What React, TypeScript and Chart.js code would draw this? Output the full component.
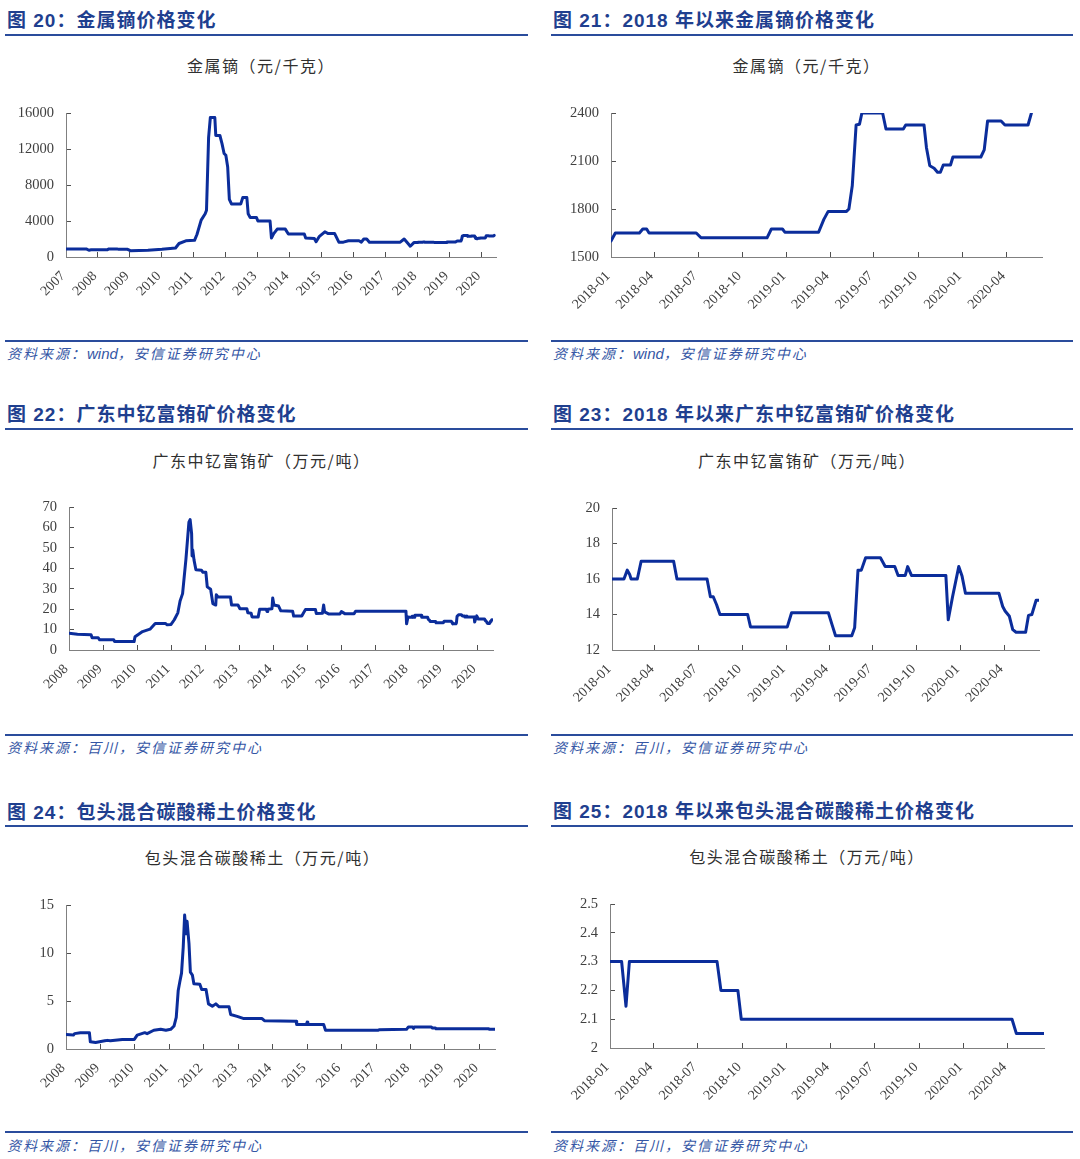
import React, { useEffect, useRef } from 'react';
import { Chart, registerables } from 'chart.js';

Chart.register(...registerables);

// ---------------- data ----------------
// 图21 / 图20 (2018 onward): 金属镝 元/千克
const dyRecentDates = [
  '2018-01-01', '2018-01-10', '2018-03-01', '2018-03-08', '2018-03-16', '2018-03-21',
  '2018-06-27', '2018-07-07', '2018-11-21', '2018-11-30', '2018-12-23', '2018-12-28',
  '2019-03-08', '2019-03-19', '2019-03-28', '2019-05-05', '2019-05-10', '2019-05-17',
  '2019-05-25', '2019-06-01', '2019-06-06', '2019-07-19', '2019-07-26', '2019-08-31',
  '2019-09-05', '2019-10-13', '2019-10-18', '2019-10-25', '2019-11-03', '2019-11-10',
  '2019-11-16', '2019-11-22', '2019-12-07', '2019-12-12', '2020-02-08', '2020-02-15',
  '2020-02-22', '2020-03-21', '2020-03-29', '2020-05-16', '2020-05-23',
];
const dyRecentValues = [
  1600, 1650, 1650, 1675, 1675, 1650,
  1650, 1620, 1620, 1675, 1675, 1655,
  1655, 1735, 1785, 1785, 1800, 1945,
  2325, 2330, 2400, 2400, 2300, 2300,
  2325, 2325, 2185, 2070, 2055, 2030,
  2030, 2075, 2075, 2125, 2125, 2170,
  2350, 2350, 2325, 2325, 2400,
];
// 图20 (2007-2017)
const dyEarlyDates = [
  '2007-01-01', '2007-08-20', '2007-09-20', '2007-10-15', '2008-04-15', '2008-05-05',
  '2008-08-05', '2008-08-25', '2008-12-05', '2009-01-05', '2009-07-25', '2010-01-01',
  '2010-04-05', '2010-06-05', '2010-07-15', '2010-10-01', '2011-01-08', '2011-02-05',
  '2011-03-25', '2011-05-10', '2011-05-25', '2011-06-18', '2011-07-08', '2011-08-28',
  '2011-09-08', '2011-10-25', '2011-11-18', '2011-12-12', '2012-01-01', '2012-01-22',
  '2012-02-10', '2012-03-05', '2012-06-20', '2012-07-12', '2012-08-28', '2012-09-12',
  '2012-10-05', '2012-12-15', '2013-01-01', '2013-05-20', '2013-06-05', '2013-07-01',
  '2013-08-10', '2013-11-10', '2013-12-15', '2014-06-15', '2014-07-01', '2014-10-08',
  '2014-10-28', '2014-12-05', '2015-02-05', '2015-03-15', '2015-05-28', '2015-07-15',
  '2015-09-05', '2015-11-01', '2016-03-01', '2016-03-28', '2016-04-25', '2016-05-28',
  '2016-06-28', '2017-06-15', '2017-07-30', '2017-09-12', '2017-10-08', '2017-11-18',
  '2017-12-31',
];
const dyEarlyValues = [
  900, 900, 750, 800, 800, 900,
  900, 850, 850, 700, 750, 850,
  950, 1000, 1500, 1800, 1850, 2500,
  4100, 4800, 5200, 13300, 15500, 15500,
  13500, 13500, 12600, 11500, 11300, 10000,
  6400, 5900, 5900, 6600, 6600, 4800,
  4400, 4400, 4000, 4000, 2100, 2600,
  3100, 3100, 2550, 2550, 2100, 2050,
  1700, 2300, 2800, 2600, 2600, 1650,
  1650, 1800, 1800, 1650, 2000, 2000,
  1650, 1650, 2000, 1500, 1200, 1600,
  1600,
];

// 图23 / 图22 (2018 onward): 广东中钇富铕矿 万元/吨
const euRecentDates = [
  '2018-01-01', '2018-01-26', '2018-02-02', '2018-02-07', '2018-02-10', '2018-02-23',
  '2018-03-03', '2018-05-10', '2018-05-17', '2018-07-19', '2018-07-26', '2018-08-01',
  '2018-08-08', '2018-08-15', '2018-10-12', '2018-10-18', '2019-01-03', '2019-01-12',
  '2019-03-30', '2019-04-07', '2019-04-14', '2019-05-18', '2019-05-24', '2019-05-31',
  '2019-06-07', '2019-06-16', '2019-07-17', '2019-07-27', '2019-08-16', '2019-08-23',
  '2019-09-07', '2019-09-12', '2019-09-20', '2019-12-01', '2019-12-06', '2019-12-15',
  '2019-12-28', '2020-01-04', '2020-01-11', '2020-03-21', '2020-03-29', '2020-04-03',
  '2020-04-12', '2020-04-19', '2020-04-26', '2020-05-16', '2020-05-22', '2020-05-29',
  '2020-06-07', '2020-06-12',
];
const euRecentValues = [
  16.0, 16.0, 16.5, 16.25, 16.0, 16.0,
  17.0, 17.0, 16.0, 16.0, 15.0, 15.0,
  14.55, 14.0, 14.0, 13.3, 13.3, 14.1,
  14.1, 13.4, 12.8, 12.8, 13.25, 16.5,
  16.5, 17.2, 17.2, 16.7, 16.7, 16.2,
  16.2, 16.7, 16.2, 16.2, 13.7, 15.0,
  16.7, 16.15, 15.2, 15.2, 14.45, 14.2,
  13.9, 13.15, 13.0, 13.0, 13.95, 14.0,
  14.8, 14.8,
];
// 图22 (2008-2017)
const euEarlyDates = [
  '2008-01-01', '2008-04-01', '2008-08-25', '2008-09-05', '2008-11-10', '2008-11-25',
  '2009-04-25', '2009-05-05', '2009-11-30', '2009-12-10', '2010-01-10', '2010-03-01',
  '2010-05-20', '2010-07-15', '2010-11-01', '2010-11-20', '2011-01-01', '2011-02-05',
  '2011-03-15', '2011-04-08', '2011-05-05', '2011-06-10', '2011-07-12', '2011-07-25',
  '2011-08-10', '2011-08-15', '2011-08-22', '2011-09-05', '2011-09-25', '2011-11-25',
  '2011-12-10', '2012-01-10', '2012-01-25', '2012-03-01', '2012-03-25', '2012-04-25',
  '2012-05-01', '2012-05-20', '2012-09-30', '2012-10-12', '2012-12-20', '2013-01-10',
  '2013-03-25', '2013-04-05', '2013-05-10', '2013-05-20', '2013-07-25', '2013-08-10',
  '2013-10-20', '2013-10-28', '2013-11-05', '2013-12-20', '2013-12-28', '2014-01-10',
  '2014-03-01', '2014-03-25', '2014-07-30', '2014-08-10', '2014-11-05', '2014-11-20',
  '2014-12-15', '2015-04-01', '2015-04-10', '2015-06-15', '2015-06-28', '2015-07-08',
  '2015-08-25', '2015-12-20', '2016-01-05', '2016-02-10', '2016-05-20', '2016-06-05',
  '2017-11-28', '2017-12-05', '2017-12-20',
];
const euEarlyValues = [
  8.2, 7.7, 7.5, 6.0, 6.0, 5.0,
  5.0, 4.1, 4.1, 6.5, 7.5, 9.0,
  10.2, 13.0, 13.0, 12.3, 12.5, 14.8,
  18.2, 24.0, 27.6, 44.5, 62.6, 63.8,
  56.9, 46.0, 49.0, 44.0, 39.3, 39.0,
  38.0, 38.0, 30.9, 29.7, 22.7, 22.0,
  27.0, 26.0, 26.0, 22.0, 22.0, 20.2,
  20.2, 18.2, 18.0, 16.2, 16.2, 20.0,
  19.9, 18.8, 19.9, 20.2, 25.5, 22.0,
  21.5, 19.2, 19.0, 16.6, 16.6, 17.9,
  19.8, 19.8, 17.9, 18.0, 22.0, 18.7,
  17.6, 17.6, 18.8, 17.8, 17.8, 19.0,
  19.0, 12.8, 16.2,
];

// 图25 / 图24 (2018 onward): 包头混合碳酸稀土 万元/吨
const btRecentDates = [
  '2018-01-01', '2018-01-25', '2018-02-03', '2018-02-10', '2018-08-10', '2018-08-18',
  '2018-09-22', '2018-09-29', '2020-04-10', '2020-04-19', '2020-06-15',
];
const btRecentValues = [2.3, 2.3, 2.145, 2.3, 2.3, 2.2, 2.2, 2.1, 2.1, 2.05, 2.05];
// 图24 (2008-2017)
const btEarlyDates = [
  '2008-01-01', '2008-03-20', '2008-04-01', '2008-06-01', '2008-09-05', '2008-09-15',
  '2008-11-10', '2009-02-15', '2009-03-15', '2009-04-15', '2009-08-20', '2009-12-25',
  '2010-01-25', '2010-02-10', '2010-04-15', '2010-05-10', '2010-07-20', '2010-10-01',
  '2010-11-25', '2011-01-15', '2011-02-20', '2011-03-15', '2011-04-05', '2011-04-22',
  '2011-05-10', '2011-05-28', '2011-06-12', '2011-06-28', '2011-07-08', '2011-07-28',
  '2011-08-12', '2011-09-02', '2011-09-18', '2011-11-20', '2011-12-10', '2012-01-25',
  '2012-02-20', '2012-04-01', '2012-05-08', '2012-06-12', '2012-09-25', '2012-10-12',
  '2012-12-20', '2013-03-01', '2013-09-10', '2013-10-05', '2014-09-05', '2014-09-12',
  '2014-12-25', '2015-01-01', '2015-01-08', '2015-06-25', '2015-07-15', '2017-01-20',
  '2017-02-01', '2017-11-20', '2017-12-10',
];
const btEarlyValues = [
  1.5, 1.45, 1.6, 1.7, 1.7, 0.75,
  0.68, 0.85, 0.9, 0.85, 1.0, 1.0,
  1.45, 1.5, 1.7, 1.6, 1.95, 2.05,
  1.95, 2.05, 2.4, 3.3, 6.1, 7.0,
  7.9, 10.6, 13.95, 12.0, 13.3, 11.0,
  8.0, 7.7, 6.8, 6.75, 6.2, 6.2,
  4.7, 4.45, 4.7, 4.4, 4.4, 3.6,
  3.4, 3.17, 3.17, 2.95, 2.9, 2.55,
  2.55, 2.8, 2.55, 2.55, 1.95, 1.95,
  2.0, 2.05, 2.3,
];

// tick labels
const yearLabels2007 = ['2007', '2008', '2009', '2010', '2011', '2012', '2013', '2014', '2015', '2016', '2017', '2018', '2019', '2020'];
const yearLabels2008 = ['2008', '2009', '2010', '2011', '2012', '2013', '2014', '2015', '2016', '2017', '2018', '2019', '2020'];
const quarterLabels = ['2018-01', '2018-04', '2018-07', '2018-10', '2019-01', '2019-04', '2019-07', '2019-10', '2020-01', '2020-04'];

// ---------------- style ----------------
const LINE_COLOR = '#0b2d9b';
const HEADER_COLOR = '#1f3f8f';
const RULE_COLOR = '#2a4c9c';
const SOURCE_COLOR = '#3456a5';
const AXIS_COLOR = '#808080';
const TICK_COLOR = '#505050';
const LABEL_COLOR = '#404040';
const SERIF = '"Liberation Serif", "Times New Roman", serif';
const CJK = '"Noto Sans CJK SC", "Noto Sans", sans-serif';
const HEADER_FONT = '"Liberation Sans", Arial, "Noto Sans CJK SC", sans-serif';

const YW = 62;
const PT = 12;
const PR = 14;
const XH = 70;

const toDay = (s: string) => {
  const p = s.split('-').map(Number);
  return Date.UTC(p[0], p[1] - 1, p[2] || 1) / 86400000;
};

type Spec = {
  plot: { l: number; t: number; r: number; b: number };
  dates: string[];
  values: number[];
  xMin: string;
  xMax: string;
  tickLabels: string[];
  tickDates: string[];
  yMin: number;
  yMax: number;
  yStep: number;
  yFmt: (v: number) => string;
};

const zeroPad = (s: any) => {
  s.paddingTop = 0;
  s.paddingBottom = 0;
  s.paddingLeft = 0;
  s.paddingRight = 0;
};

function LineChart({ spec }: { spec: Spec }) {
  const ref = useRef<HTMLCanvasElement>(null);
  const { l, t, r, b } = spec.plot;
  const w = r - l + YW + PR;
  const h = b - t + PT + XH;
  useEffect(() => {
    const canvas = ref.current;
    if (!canvas) return;
    const tickVals = spec.tickDates.map(toDay);
    const grid = {
      display: true,
      drawOnChartArea: false,
      drawTicks: true,
      tickLength: -5,
      color: TICK_COLOR,
      lineWidth: 1,
    };
    const border = { display: true, color: AXIS_COLOR, width: 1 };
    const chart = new Chart(canvas, {
      type: 'line',
      data: {
        datasets: [
          {
            data: spec.dates.map((d, i) => ({ x: toDay(d), y: spec.values[i] })),
            borderColor: LINE_COLOR,
            backgroundColor: LINE_COLOR,
            borderWidth: 3,
            pointRadius: 0,
            tension: 0,
            fill: false,
            borderJoinStyle: 'round',
            borderCapStyle: 'round',
          },
        ],
      },
      options: {
        animation: false,
        responsive: false,
        maintainAspectRatio: false,
        events: [],
        layout: { padding: { top: PT, right: PR, left: 0, bottom: 0 } },
        plugins: {
          legend: { display: false },
          tooltip: { enabled: false },
          title: { display: false },
        },
        scales: {
          x: {
            type: 'linear',
            min: toDay(spec.xMin),
            max: toDay(spec.xMax),
            afterBuildTicks: (s: any) => {
              s.ticks = tickVals.map((v) => ({ value: v }));
            },
            afterFit: (s: any) => {
              s.height = XH;
              zeroPad(s);
            },
            ticks: {
              autoSkip: false,
              maxRotation: 45,
              minRotation: 45,
              padding: 16,
              labelOffset: -3,
              color: LABEL_COLOR,
              font: { family: SERIF, size: 14 },
              callback: (_v: any, i: number) => spec.tickLabels[i],
            },
            grid,
            border,
          },
          y: {
            type: 'linear',
            min: spec.yMin,
            max: spec.yMax,
            afterFit: (s: any) => {
              s.width = YW;
              zeroPad(s);
            },
            ticks: {
              stepSize: spec.yStep,
              autoSkip: false,
              padding: 17,
              color: LABEL_COLOR,
              font: { family: SERIF, size: 14.5 },
              callback: (v: any) => spec.yFmt(Number(v)),
            },
            grid,
            border,
          },
        },
      } as any,
    });
    return () => chart.destroy();
  }, []);
  return (
    <canvas
      ref={ref}
      width={w}
      height={h}
      style={{ position: 'absolute', left: l - YW, top: t - PT, width: w, height: h }}
    />
  );
}

const intFmt = (v: number) => String(Math.round(v));
const decFmt = (v: number) => String(Math.round(v * 10) / 10);

const specs: Spec[] = [
  {
    plot: { l: 66, t: 113, r: 496, b: 257 },
    dates: [...dyEarlyDates, ...dyRecentDates],
    values: [...dyEarlyValues, ...dyRecentValues],
    xMin: '2007-01-01', xMax: '2020-06-13',
    tickLabels: yearLabels2007, tickDates: yearLabels2007.map((y) => y + '-01-01'),
    yMin: 0, yMax: 16000, yStep: 4000, yFmt: intFmt,
  },
  {
    plot: { l: 611, t: 113, r: 1042, b: 257 },
    dates: dyRecentDates, values: dyRecentValues,
    xMin: '2018-01-01', xMax: '2020-06-14',
    tickLabels: quarterLabels, tickDates: quarterLabels.map((q) => q + '-01'),
    yMin: 1500, yMax: 2400, yStep: 300, yFmt: intFmt,
  },
  {
    plot: { l: 69, t: 507, r: 493, b: 650 },
    dates: [...euEarlyDates, ...euRecentDates],
    values: [...euEarlyValues, ...euRecentValues],
    xMin: '2008-01-01', xMax: '2020-06-20',
    tickLabels: yearLabels2008, tickDates: yearLabels2008.map((y) => y + '-01-01'),
    yMin: 0, yMax: 70, yStep: 10, yFmt: intFmt,
  },
  {
    plot: { l: 612, t: 508, r: 1039, b: 650 },
    dates: euRecentDates, values: euRecentValues,
    xMin: '2018-01-01', xMax: '2020-06-13',
    tickLabels: quarterLabels, tickDates: quarterLabels.map((q) => q + '-01'),
    yMin: 12, yMax: 20, yStep: 2, yFmt: intFmt,
  },
  {
    plot: { l: 66, t: 905, r: 495, b: 1049 },
    dates: [...btEarlyDates, ...btRecentDates],
    values: [...btEarlyValues, ...btRecentValues],
    xMin: '2008-01-01', xMax: '2020-06-15',
    tickLabels: yearLabels2008, tickDates: yearLabels2008.map((y) => y + '-01-01'),
    yMin: 0, yMax: 15, yStep: 5, yFmt: intFmt,
  },
  {
    plot: { l: 610, t: 904, r: 1044, b: 1048 },
    dates: btRecentDates, values: btRecentValues,
    xMin: '2018-01-01', xMax: '2020-06-15',
    tickLabels: quarterLabels, tickDates: quarterLabels.map((q) => q + '-01'),
    yMin: 2, yMax: 2.5, yStep: 0.1, yFmt: decFmt,
  },
];

const headers = [
  { text: '图 20：金属镝价格变化', x: 7, y: 20.5 },
  { text: '图 21：2018 年以来金属镝价格变化', x: 553, y: 20.5 },
  { text: '图 22：广东中钇富铕矿价格变化', x: 7, y: 415 },
  { text: '图 23：2018 年以来广东中钇富铕矿价格变化', x: 553, y: 414.5 },
  { text: '图 24：包头混合碳酸稀土价格变化', x: 7, y: 812.5 },
  { text: '图 25：2018 年以来包头混合碳酸稀土价格变化', x: 553, y: 812 },
];

const titles = [
  { text: '金属镝（元/千克）', cx: 261, y: 65 },
  { text: '金属镝（元/千克）', cx: 806.5, y: 65 },
  { text: '广东中钇富铕矿（万元/吨）', cx: 261.5, y: 460 },
  { text: '广东中钇富铕矿（万元/吨）', cx: 807, y: 460 },
  { text: '包头混合碳酸稀土（万元/吨）', cx: 262.5, y: 856.5 },
  { text: '包头混合碳酸稀土（万元/吨）', cx: 807, y: 856 },
];

const rules = [
  { x1: 5, x2: 528, y: 34.5 },
  { x1: 551, x2: 1073, y: 34.5 },
  { x1: 5, x2: 528, y: 340.7 },
  { x1: 551, x2: 1073, y: 340.7 },
  { x1: 5, x2: 528, y: 428.7 },
  { x1: 551, x2: 1073, y: 428.7 },
  { x1: 5, x2: 528, y: 735 },
  { x1: 551, x2: 1073, y: 735 },
  { x1: 5, x2: 528, y: 826 },
  { x1: 551, x2: 1073, y: 826 },
  { x1: 5, x2: 528, y: 1132.3 },
  { x1: 551, x2: 1073, y: 1132.3 },
];

const sources = [
  { pre: '资料来源：', mid: 'wind', post: '，安信证券研究中心', x: 7, y: 354 },
  { pre: '资料来源：', mid: 'wind', post: '，安信证券研究中心', x: 553, y: 353.5 },
  { pre: '资料来源：百川，安信证券研究中心', mid: '', post: '', x: 7, y: 748 },
  { pre: '资料来源：百川，安信证券研究中心', mid: '', post: '', x: 553, y: 748 },
  { pre: '资料来源：百川，安信证券研究中心', mid: '', post: '', x: 7, y: 1146 },
  { pre: '资料来源：百川，安信证券研究中心', mid: '', post: '', x: 553, y: 1146 },
];

export default function App() {
  return (
    <div
      style={{
        position: 'absolute',
        left: 0,
        top: 0,
        width: 1080,
        height: 1159,
        background: '#ffffff',
        overflow: 'hidden',
      }}
    >
      {headers.map((hd, i) => (
        <div
          key={'h' + i}
          style={{
            position: 'absolute',
            left: hd.x,
            top: hd.y - 12,
            height: 24,
            lineHeight: '24px',
            whiteSpace: 'nowrap',
            fontFamily: HEADER_FONT,
            fontWeight: 700,
            fontSize: 19,
            letterSpacing: 1,
            color: HEADER_COLOR,
          }}
        >
          {hd.text}
        </div>
      ))}
      {rules.map((ru, i) => (
        <div
          key={'r' + i}
          style={{
            position: 'absolute',
            left: ru.x1,
            top: ru.y - 1,
            width: ru.x2 - ru.x1,
            height: 2,
            background: RULE_COLOR,
          }}
        />
      ))}
      {titles.map((ti, i) => (
        <div
          key={'t' + i}
          style={{
            position: 'absolute',
            left: ti.cx - 160,
            width: 320,
            top: ti.y - 11,
            height: 22,
            lineHeight: '22px',
            textAlign: 'center',
            whiteSpace: 'nowrap',
            fontFamily: CJK,
            fontSize: 16,
            letterSpacing: 1.5,
            color: '#303030',
          }}
        >
          {ti.text}
        </div>
      ))}
      {sources.map((so, i) => (
        <div
          key={'s' + i}
          style={{
            position: 'absolute',
            left: so.x,
            top: so.y - 10,
            height: 20,
            lineHeight: '20px',
            whiteSpace: 'nowrap',
            fontFamily: HEADER_FONT,
            fontStyle: 'italic',
            fontSize: 14,
            letterSpacing: 2,
            color: SOURCE_COLOR,
          }}
        >
          {so.pre}
          {so.mid ? <span style={{ letterSpacing: 0, fontSize: 15 }}>{so.mid}</span> : null}
          {so.post}
        </div>
      ))}
      {specs.map((sp, i) => (
        <LineChart key={'c' + i} spec={sp} />
      ))}
    </div>
  );
}
